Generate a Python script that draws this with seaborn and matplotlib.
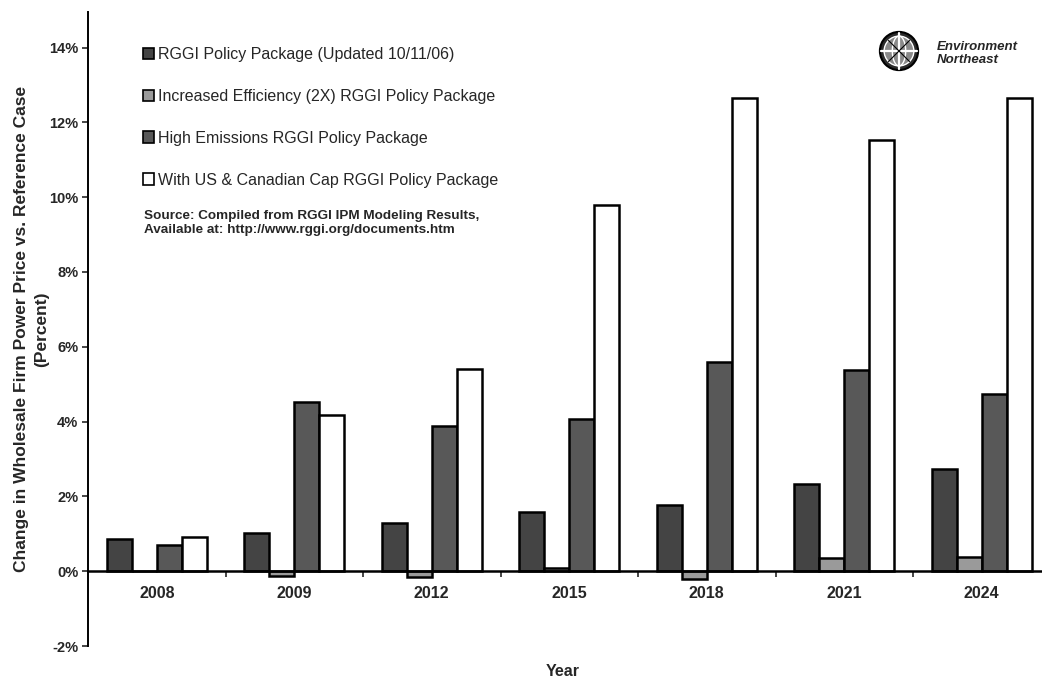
import numpy as np
import pandas as pd
import matplotlib
matplotlib.use("Agg")
import matplotlib.pyplot as plt
from matplotlib.patches import Circle, Ellipse
from matplotlib.ticker import FuncFormatter, FixedLocator
import seaborn as sns

# Modelled change in wholesale firm power price vs. the reference case (percent)
years = ["2008", "2009", "2012", "2015", "2018", "2021", "2024"]
series_names = [
    "RGGI Policy Package (Updated 10/11/06)",
    "Increased Efficiency (2X) RGGI Policy Package",
    "High Emissions RGGI Policy Package",
    "With US & Canadian Cap RGGI Policy Package",
]
rggi_package = [0.85, 1.03, 1.28, 1.57, 1.78, 2.32, 2.72]
increased_efficiency = [0.00, -0.14, -0.15, 0.08, -0.22, 0.36, 0.37]
high_emissions = [0.70, 4.53, 3.88, 4.08, 5.58, 5.37, 4.74]
us_canadian_cap = [0.92, 4.18, 5.41, 9.79, 12.65, 11.53, 12.66]

y_ticks = [-2, 0, 2, 4, 6, 8, 10, 12, 14]

df = pd.DataFrame({
    "Year": years * 4,
    "Package": sum([[n] * len(years) for n in series_names], []),
    "Change": rggi_package + increased_efficiency + high_emissions + us_canadian_cap,
})

sns.set_style("white")
plt.rcParams["font.family"] = ["Liberation Sans", "DejaVu Sans"]

W, H = 1042, 681
fig = plt.figure(figsize=(W / 100, H / 100), dpi=100)
# axes spans seven category slots; the last slot runs slightly past the right edge
ax_left, ax_bottom, ax_w, ax_h = 88, 646, 962.5, 634
ax = fig.add_axes([ax_left / W, 1 - ax_bottom / H, ax_w / W, ax_h / H])

palette = ["#444444", "#9a9a9a", "#585858", "#ffffff"]
sns.barplot(data=df, x="Year", y="Change", hue="Package", order=years,
            hue_order=series_names, palette=palette, width=0.73,
            edgecolor="black", linewidth=1.8, saturation=1, ax=ax)

ax.set_xlim(-0.5, len(years) - 0.5)
ax.set_ylim(-2, 14.95)

for side in ["top", "right"]:
    ax.spines[side].set_visible(False)
ax.spines["bottom"].set_position(("data", 0))
ax.spines["bottom"].set_linewidth(1.8)
ax.spines["left"].set_linewidth(1.4)
for s in ["bottom", "left"]:
    ax.spines[s].set_color("black")

ax.yaxis.set_major_locator(FixedLocator(y_ticks))
ax.yaxis.set_major_formatter(FuncFormatter(lambda v, p: f"{v:.0f}%"))
ax.tick_params(axis="y", direction="out", length=4, width=1.2, pad=3,
               labelsize=10.5, left=True)
ax.set_xticks(range(len(years)), years)
ax.set_xticks(np.arange(len(years) - 1) + 0.5, minor=True)
ax.tick_params(axis="x", which="major", length=0, pad=11, labelsize=11.5)
ax.tick_params(axis="x", which="minor", direction="out", length=4, width=1.2, bottom=True)
for lbl in ax.get_xticklabels() + ax.get_yticklabels():
    lbl.set_fontweight("bold")

ax.set_xlabel("Year", fontsize=11.5, fontweight="bold")
ax.xaxis.set_label_coords((563 - ax_left) / ax_w, (ax_bottom - 664) / ax_h)
ax.set_ylabel("Change in Wholesale Firm Power Price vs. Reference Case\n(Percent)",
              fontsize=12.5, fontweight="bold", multialignment="center", linespacing=1.45)
ax.yaxis.set_label_coords((49 - ax_left) / ax_w, 0.5)

sns.move_legend(ax, "upper left", bbox_to_anchor=(143 / W, 1 - 47 / H),
                bbox_transform=fig.transFigure, frameon=False, title=None,
                fontsize=11.5, handlelength=0.7, handleheight=0.7,
                handletextpad=0.25, labelspacing=1.68, borderpad=0, borderaxespad=0)
for h in ax.get_legend().legend_handles:
    h.set_edgecolor("black")
    h.set_linewidth(1.2)

fig.text(144 / W, 1 - 223 / H, "Source: Compiled from RGGI IPM Modeling Results,\n"
         "Available at: http://www.rggi.org/documents.htm",
         fontsize=9.7, fontweight="bold", va="center", ha="left", linespacing=1.2)

# Environment Northeast emblem
logo = fig.add_axes([878 / W, 1 - 72 / H, 42 / W, 42 / H])
logo.set_xlim(-1.1, 1.1)
logo.set_ylim(-1.1, 1.1)
logo.set_aspect("equal")
logo.axis("off")
logo.add_patch(Circle((0, 0), 1.0, facecolor="#2b2b2b", edgecolor="black", lw=1.5))
logo.add_patch(Circle((0, 0), 0.78, facecolor="#8a8a8a", edgecolor="white", lw=1.0))
logo.add_patch(Ellipse((0, 0), 0.7, 1.56, facecolor="none", edgecolor="white", lw=1.0))
logo.plot([-0.95, 0.95], [0, 0], color="white", lw=1.6)
logo.plot([0, 0], [-0.95, 0.95], color="white", lw=1.6)
logo.plot([-0.55, 0.55], [-0.55, 0.55], color="black", lw=0.8)
logo.plot([-0.55, 0.55], [0.55, -0.55], color="black", lw=0.8)

fig.text(937 / W, 1 - 47 / H, "Environment", fontsize=9.5, fontweight="bold",
         fontstyle="italic", va="center", ha="left")
fig.text(937 / W, 1 - 60 / H, "Northeast", fontsize=9.5, fontweight="bold",
         fontstyle="italic", va="center", ha="left")

fig.savefig("out.png", dpi=100)
